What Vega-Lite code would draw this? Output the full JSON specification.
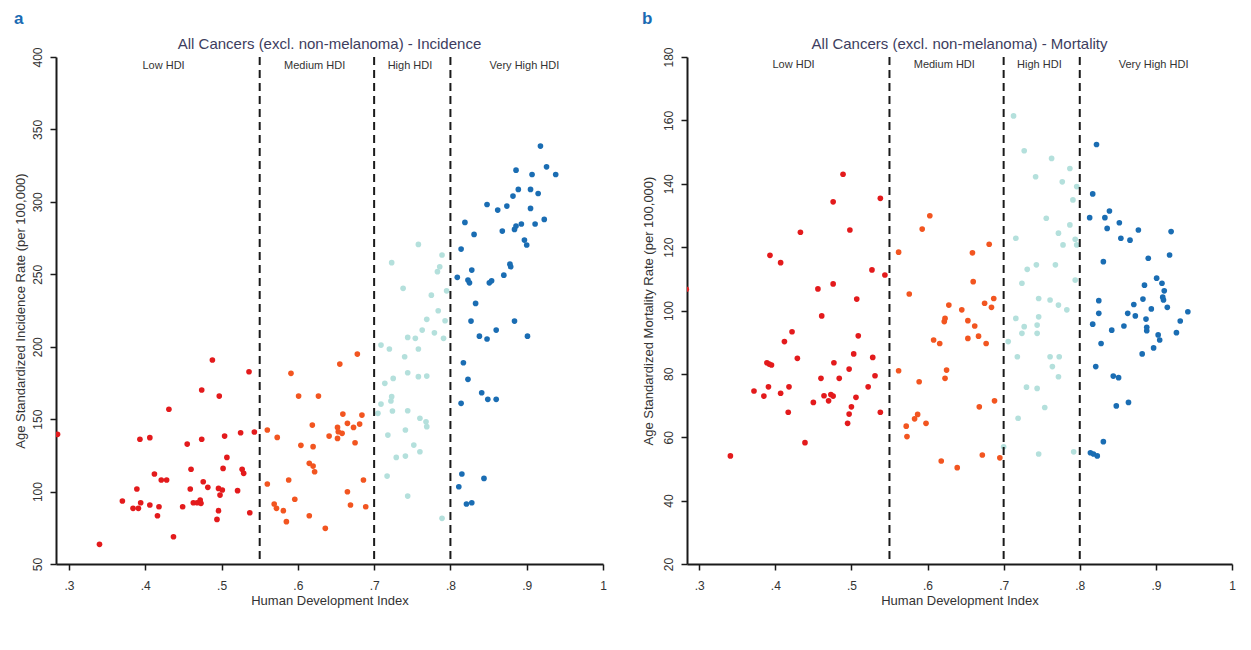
{
  "$schema": "https://vega.github.io/schema/vega-lite/v6.json",
  "background": "white",
  "padding": {"left": 14, "top": 9, "right": 5, "bottom": 5},
  "config": {
    "view": {"stroke": null},
    "font": "Liberation Sans",
    "axis": {"domainColor": "#1a1a1a", "domainWidth": 2, "tickColor": "#1a1a1a", "tickWidth": 1.5, "tickSize": 6, "labelFont": "Liberation Sans", "labelFontSize": 12, "labelColor": "#333333", "titleFont": "Liberation Sans", "titleFontSize": 13, "titleFontWeight": "normal", "titleColor": "#333333", "grid": false, "labelOverlap": false}
  },
  "datasets": {
    "cuts": [{"x": 0.55}, {"x": 0.7}, {"x": 0.8}],
    "labelsA": [{"x": 0.424, "y": 394, "label": "Low HDI"}, {"x": 0.622, "y": 394, "label": "Medium HDI"}, {"x": 0.747, "y": 394, "label": "High HDI"}, {"x": 0.897, "y": 394, "label": "Very High HDI"}],
    "labelsB": [{"x": 0.424, "y": 177.4, "label": "Low HDI"}, {"x": 0.622, "y": 177.4, "label": "Medium HDI"}, {"x": 0.747, "y": 177.4, "label": "High HDI"}, {"x": 0.897, "y": 177.4, "label": "Very High HDI"}],
    "incidence": [
      {"x":0.285,"y":139.5,"g":"Low"},{"x":0.340,"y":63.6,"g":"Low"},{"x":0.370,"y":93.5,"g":"Low"},{"x":0.384,"y":88.4,"g":"Low"},{"x":0.389,"y":101.8,"g":"Low"},{"x":0.391,"y":88.4,"g":"Low"},{"x":0.393,"y":136.1,"g":"Low"},{"x":0.394,"y":92.3,"g":"Low"},{"x":0.406,"y":137.2,"g":"Low"},{"x":0.406,"y":90.7,"g":"Low"},{"x":0.412,"y":112.1,"g":"Low"},{"x":0.416,"y":83.3,"g":"Low"},{"x":0.418,"y":89.5,"g":"Low"},{"x":0.421,"y":108.0,"g":"Low"},{"x":0.428,"y":108.0,"g":"Low"},{"x":0.431,"y":156.8,"g":"Low"},{"x":0.437,"y":68.8,"g":"Low"},{"x":0.449,"y":89.5,"g":"Low"},{"x":0.455,"y":132.8,"g":"Low"},{"x":0.459,"y":101.8,"g":"Low"},{"x":0.460,"y":115.4,"g":"Low"},{"x":0.463,"y":92.3,"g":"Low"},{"x":0.468,"y":92.3,"g":"Low"},{"x":0.472,"y":94.2,"g":"Low"},{"x":0.473,"y":91.9,"g":"Low"},{"x":0.474,"y":170.1,"g":"Low"},{"x":0.474,"y":136.1,"g":"Low"},{"x":0.476,"y":106.8,"g":"Low"},{"x":0.482,"y":102.9,"g":"Low"},{"x":0.488,"y":190.8,"g":"Low"},{"x":0.494,"y":80.8,"g":"Low"},{"x":0.496,"y":86.8,"g":"Low"},{"x":0.496,"y":102.2,"g":"Low"},{"x":0.497,"y":165.9,"g":"Low"},{"x":0.498,"y":97.6,"g":"Low"},{"x":0.501,"y":101.1,"g":"Low"},{"x":0.502,"y":116.0,"g":"Low"},{"x":0.504,"y":138.3,"g":"Low"},{"x":0.507,"y":123.6,"g":"Low"},{"x":0.521,"y":100.6,"g":"Low"},{"x":0.525,"y":140.6,"g":"Low"},{"x":0.527,"y":115.4,"g":"Low"},{"x":0.529,"y":112.6,"g":"Low"},{"x":0.536,"y":182.7,"g":"Low"},{"x":0.537,"y":85.4,"g":"Low"},{"x":0.543,"y":141.1,"g":"Low"},
      {"x":0.560,"y":142.5,"g":"Medium"},{"x":0.560,"y":105.2,"g":"Medium"},{"x":0.569,"y":91.4,"g":"Medium"},{"x":0.572,"y":88.4,"g":"Medium"},{"x":0.573,"y":137.4,"g":"Medium"},{"x":0.581,"y":86.8,"g":"Medium"},{"x":0.585,"y":79.2,"g":"Medium"},{"x":0.588,"y":108.0,"g":"Medium"},{"x":0.591,"y":181.6,"g":"Medium"},{"x":0.596,"y":94.7,"g":"Medium"},{"x":0.601,"y":165.9,"g":"Medium"},{"x":0.604,"y":131.9,"g":"Medium"},{"x":0.615,"y":83.3,"g":"Medium"},{"x":0.615,"y":119.5,"g":"Medium"},{"x":0.620,"y":117.6,"g":"Medium"},{"x":0.622,"y":113.7,"g":"Medium"},{"x":0.619,"y":145.9,"g":"Medium"},{"x":0.620,"y":131.0,"g":"Medium"},{"x":0.627,"y":165.9,"g":"Medium"},{"x":0.636,"y":74.6,"g":"Medium"},{"x":0.641,"y":138.3,"g":"Medium"},{"x":0.652,"y":144.3,"g":"Medium"},{"x":0.653,"y":141.3,"g":"Medium"},{"x":0.652,"y":136.7,"g":"Medium"},{"x":0.655,"y":188.0,"g":"Medium"},{"x":0.658,"y":140.2,"g":"Medium"},{"x":0.659,"y":153.5,"g":"Medium"},{"x":0.665,"y":99.9,"g":"Medium"},{"x":0.665,"y":147.1,"g":"Medium"},{"x":0.669,"y":90.7,"g":"Medium"},{"x":0.673,"y":144.3,"g":"Medium"},{"x":0.675,"y":133.7,"g":"Medium"},{"x":0.678,"y":194.9,"g":"Medium"},{"x":0.681,"y":146.6,"g":"Medium"},{"x":0.684,"y":152.8,"g":"Medium"},{"x":0.686,"y":108.0,"g":"Medium"},{"x":0.689,"y":89.5,"g":"Medium"},
      {"x":0.758,"y":270.6,"g":"High"},{"x":0.723,"y":258.0,"g":"High"},{"x":0.789,"y":263.3,"g":"High"},{"x":0.786,"y":255.2,"g":"High"},{"x":0.783,"y":251.8,"g":"High"},{"x":0.738,"y":240.3,"g":"High"},{"x":0.795,"y":238.6,"g":"High"},{"x":0.775,"y":235.6,"g":"High"},{"x":0.784,"y":224.8,"g":"High"},{"x":0.769,"y":218.9,"g":"High"},{"x":0.793,"y":217.9,"g":"High"},{"x":0.763,"y":211.5,"g":"High"},{"x":0.779,"y":209.6,"g":"High"},{"x":0.744,"y":206.4,"g":"High"},{"x":0.754,"y":205.8,"g":"High"},{"x":0.791,"y":205.8,"g":"High"},{"x":0.709,"y":201.1,"g":"High"},{"x":0.720,"y":198.4,"g":"High"},{"x":0.758,"y":198.4,"g":"High"},{"x":0.740,"y":193.1,"g":"High"},{"x":0.744,"y":182.0,"g":"High"},{"x":0.758,"y":179.3,"g":"High"},{"x":0.769,"y":179.7,"g":"High"},{"x":0.725,"y":178.1,"g":"High"},{"x":0.714,"y":174.7,"g":"High"},{"x":0.723,"y":165.5,"g":"High"},{"x":0.722,"y":162.5,"g":"High"},{"x":0.709,"y":160.4,"g":"High"},{"x":0.724,"y":155.6,"g":"High"},{"x":0.744,"y":155.8,"g":"High"},{"x":0.705,"y":154.0,"g":"High"},{"x":0.760,"y":150.6,"g":"High"},{"x":0.769,"y":144.8,"g":"High"},{"x":0.768,"y":148.2,"g":"High"},{"x":0.718,"y":139.0,"g":"High"},{"x":0.741,"y":142.5,"g":"High"},{"x":0.752,"y":132.1,"g":"High"},{"x":0.760,"y":127.5,"g":"High"},{"x":0.729,"y":123.6,"g":"High"},{"x":0.741,"y":124.5,"g":"High"},{"x":0.717,"y":110.7,"g":"High"},{"x":0.744,"y":96.9,"g":"High"},{"x":0.789,"y":81.5,"g":"High"},
      {"x":0.918,"y":338.5,"g":"Very High"},{"x":0.886,"y":321.9,"g":"Very High"},{"x":0.926,"y":324.2,"g":"Very High"},{"x":0.907,"y":318.9,"g":"Very High"},{"x":0.938,"y":318.9,"g":"Very High"},{"x":0.889,"y":308.6,"g":"Very High"},{"x":0.905,"y":308.6,"g":"Very High"},{"x":0.915,"y":305.8,"g":"Very High"},{"x":0.882,"y":304.0,"g":"Very High"},{"x":0.848,"y":298.2,"g":"Very High"},{"x":0.862,"y":294.3,"g":"Very High"},{"x":0.874,"y":297.1,"g":"Very High"},{"x":0.905,"y":295.5,"g":"Very High"},{"x":0.819,"y":285.8,"g":"Very High"},{"x":0.831,"y":277.5,"g":"Very High"},{"x":0.868,"y":279.8,"g":"Very High"},{"x":0.884,"y":281.0,"g":"Very High"},{"x":0.886,"y":283.3,"g":"Very High"},{"x":0.893,"y":284.7,"g":"Very High"},{"x":0.911,"y":284.7,"g":"Very High"},{"x":0.923,"y":287.9,"g":"Very High"},{"x":0.897,"y":273.6,"g":"Very High"},{"x":0.900,"y":270.2,"g":"Very High"},{"x":0.814,"y":267.4,"g":"Very High"},{"x":0.828,"y":252.9,"g":"Very High"},{"x":0.809,"y":247.9,"g":"Very High"},{"x":0.823,"y":246.0,"g":"Very High"},{"x":0.825,"y":244.1,"g":"Very High"},{"x":0.851,"y":244.1,"g":"Very High"},{"x":0.854,"y":245.5,"g":"Very High"},{"x":0.870,"y":249.4,"g":"Very High"},{"x":0.878,"y":257.0,"g":"Very High"},{"x":0.879,"y":255.2,"g":"Very High"},{"x":0.833,"y":229.9,"g":"Very High"},{"x":0.827,"y":217.7,"g":"Very High"},{"x":0.884,"y":217.7,"g":"Very High"},{"x":0.860,"y":211.5,"g":"Very High"},{"x":0.838,"y":207.3,"g":"Very High"},{"x":0.848,"y":205.3,"g":"Very High"},{"x":0.901,"y":207.3,"g":"Very High"},{"x":0.817,"y":188.9,"g":"Very High"},{"x":0.823,"y":177.5,"g":"Very High"},{"x":0.841,"y":168.2,"g":"Very High"},{"x":0.849,"y":163.7,"g":"Very High"},{"x":0.860,"y":163.7,"g":"Very High"},{"x":0.814,"y":160.9,"g":"Very High"},{"x":0.815,"y":112.1,"g":"Very High"},{"x":0.844,"y":109.1,"g":"Very High"},{"x":0.811,"y":103.3,"g":"Very High"},{"x":0.821,"y":91.4,"g":"Very High"},{"x":0.828,"y":92.3,"g":"Very High"}
    ],
    "mortality": [
      {"x":0.283,"y":106.7,"g":"Low"},{"x":0.393,"y":117.4,"g":"Low"},{"x":0.407,"y":115.1,"g":"Low"},{"x":0.433,"y":124.7,"g":"Low"},{"x":0.456,"y":106.8,"g":"Low"},{"x":0.461,"y":98.3,"g":"Low"},{"x":0.476,"y":108.4,"g":"Low"},{"x":0.476,"y":134.3,"g":"Low"},{"x":0.489,"y":143.0,"g":"Low"},{"x":0.498,"y":125.4,"g":"Low"},{"x":0.507,"y":103.6,"g":"Low"},{"x":0.527,"y":112.8,"g":"Low"},{"x":0.538,"y":135.4,"g":"Low"},{"x":0.544,"y":111.2,"g":"Low"},{"x":0.341,"y":54.1,"g":"Low"},{"x":0.372,"y":74.6,"g":"Low"},{"x":0.385,"y":73.0,"g":"Low"},{"x":0.389,"y":83.5,"g":"Low"},{"x":0.392,"y":83.1,"g":"Low"},{"x":0.395,"y":82.8,"g":"Low"},{"x":0.391,"y":75.9,"g":"Low"},{"x":0.407,"y":73.9,"g":"Low"},{"x":0.412,"y":90.2,"g":"Low"},{"x":0.417,"y":67.9,"g":"Low"},{"x":0.418,"y":75.9,"g":"Low"},{"x":0.422,"y":93.3,"g":"Low"},{"x":0.429,"y":84.9,"g":"Low"},{"x":0.439,"y":58.3,"g":"Low"},{"x":0.450,"y":71.0,"g":"Low"},{"x":0.460,"y":78.6,"g":"Low"},{"x":0.464,"y":73.1,"g":"Low"},{"x":0.470,"y":71.5,"g":"Low"},{"x":0.473,"y":73.5,"g":"Low"},{"x":0.476,"y":73.0,"g":"Low"},{"x":0.477,"y":83.5,"g":"Low"},{"x":0.484,"y":78.6,"g":"Low"},{"x":0.495,"y":64.4,"g":"Low"},{"x":0.497,"y":67.3,"g":"Low"},{"x":0.497,"y":81.5,"g":"Low"},{"x":0.500,"y":69.6,"g":"Low"},{"x":0.503,"y":86.3,"g":"Low"},{"x":0.506,"y":72.6,"g":"Low"},{"x":0.509,"y":92.0,"g":"Low"},{"x":0.522,"y":75.9,"g":"Low"},{"x":0.528,"y":85.2,"g":"Low"},{"x":0.531,"y":79.4,"g":"Low"},{"x":0.538,"y":67.9,"g":"Low"},
      {"x":0.603,"y":129.9,"g":"Medium"},{"x":0.593,"y":125.7,"g":"Medium"},{"x":0.562,"y":118.4,"g":"Medium"},{"x":0.681,"y":120.9,"g":"Medium"},{"x":0.659,"y":118.2,"g":"Medium"},{"x":0.660,"y":109.1,"g":"Medium"},{"x":0.576,"y":105.2,"g":"Medium"},{"x":0.628,"y":101.7,"g":"Medium"},{"x":0.645,"y":100.2,"g":"Medium"},{"x":0.675,"y":102.3,"g":"Medium"},{"x":0.687,"y":103.8,"g":"Medium"},{"x":0.684,"y":101.0,"g":"Medium"},{"x":0.622,"y":96.5,"g":"Medium"},{"x":0.623,"y":97.5,"g":"Medium"},{"x":0.653,"y":96.8,"g":"Medium"},{"x":0.662,"y":95.1,"g":"Medium"},{"x":0.608,"y":90.7,"g":"Medium"},{"x":0.616,"y":89.6,"g":"Medium"},{"x":0.653,"y":91.2,"g":"Medium"},{"x":0.667,"y":91.9,"g":"Medium"},{"x":0.677,"y":89.6,"g":"Medium"},{"x":0.562,"y":81.0,"g":"Medium"},{"x":0.625,"y":81.2,"g":"Medium"},{"x":0.623,"y":78.6,"g":"Medium"},{"x":0.589,"y":77.5,"g":"Medium"},{"x":0.688,"y":71.5,"g":"Medium"},{"x":0.668,"y":69.6,"g":"Medium"},{"x":0.587,"y":67.2,"g":"Medium"},{"x":0.583,"y":65.8,"g":"Medium"},{"x":0.598,"y":64.4,"g":"Medium"},{"x":0.572,"y":63.5,"g":"Medium"},{"x":0.573,"y":60.2,"g":"Medium"},{"x":0.672,"y":54.4,"g":"Medium"},{"x":0.695,"y":53.5,"g":"Medium"},{"x":0.618,"y":52.5,"g":"Medium"},{"x":0.639,"y":50.4,"g":"Medium"},
      {"x":0.713,"y":161.4,"g":"High"},{"x":0.727,"y":150.4,"g":"High"},{"x":0.763,"y":148.0,"g":"High"},{"x":0.787,"y":144.8,"g":"High"},{"x":0.742,"y":142.2,"g":"High"},{"x":0.777,"y":140.6,"g":"High"},{"x":0.796,"y":139.1,"g":"High"},{"x":0.791,"y":134.9,"g":"High"},{"x":0.756,"y":129.1,"g":"High"},{"x":0.787,"y":127.0,"g":"High"},{"x":0.716,"y":122.8,"g":"High"},{"x":0.772,"y":124.4,"g":"High"},{"x":0.778,"y":120.7,"g":"High"},{"x":0.794,"y":122.5,"g":"High"},{"x":0.796,"y":120.7,"g":"High"},{"x":0.731,"y":113.0,"g":"High"},{"x":0.743,"y":114.4,"g":"High"},{"x":0.768,"y":114.4,"g":"High"},{"x":0.724,"y":108.6,"g":"High"},{"x":0.794,"y":109.6,"g":"High"},{"x":0.746,"y":103.8,"g":"High"},{"x":0.761,"y":103.3,"g":"High"},{"x":0.772,"y":101.7,"g":"High"},{"x":0.783,"y":100.2,"g":"High"},{"x":0.716,"y":97.5,"g":"High"},{"x":0.746,"y":98.0,"g":"High"},{"x":0.727,"y":94.9,"g":"High"},{"x":0.724,"y":92.8,"g":"High"},{"x":0.744,"y":95.4,"g":"High"},{"x":0.744,"y":92.8,"g":"High"},{"x":0.706,"y":90.2,"g":"High"},{"x":0.718,"y":85.4,"g":"High"},{"x":0.761,"y":85.4,"g":"High"},{"x":0.773,"y":85.4,"g":"High"},{"x":0.764,"y":82.3,"g":"High"},{"x":0.772,"y":79.1,"g":"High"},{"x":0.730,"y":75.8,"g":"High"},{"x":0.744,"y":75.4,"g":"High"},{"x":0.754,"y":69.4,"g":"High"},{"x":0.719,"y":66.0,"g":"High"},{"x":0.746,"y":54.7,"g":"High"},{"x":0.792,"y":55.4,"g":"High"},{"x":0.700,"y":57.0,"g":"High"},
      {"x":0.822,"y":152.4,"g":"Very High"},{"x":0.817,"y":136.8,"g":"Very High"},{"x":0.839,"y":131.4,"g":"Very High"},{"x":0.813,"y":129.3,"g":"Very High"},{"x":0.833,"y":129.3,"g":"Very High"},{"x":0.852,"y":127.7,"g":"Very High"},{"x":0.836,"y":125.9,"g":"Very High"},{"x":0.877,"y":125.4,"g":"Very High"},{"x":0.920,"y":124.9,"g":"Very High"},{"x":0.854,"y":122.8,"g":"Very High"},{"x":0.866,"y":122.2,"g":"Very High"},{"x":0.918,"y":117.5,"g":"Very High"},{"x":0.890,"y":116.5,"g":"Very High"},{"x":0.831,"y":115.4,"g":"Very High"},{"x":0.901,"y":110.2,"g":"Very High"},{"x":0.885,"y":108.0,"g":"Very High"},{"x":0.908,"y":108.6,"g":"Very High"},{"x":0.911,"y":106.2,"g":"Very High"},{"x":0.909,"y":104.2,"g":"Very High"},{"x":0.910,"y":103.3,"g":"Very High"},{"x":0.883,"y":103.6,"g":"Very High"},{"x":0.825,"y":103.1,"g":"Very High"},{"x":0.871,"y":101.9,"g":"Very High"},{"x":0.894,"y":100.5,"g":"Very High"},{"x":0.915,"y":101.0,"g":"Very High"},{"x":0.942,"y":99.6,"g":"Very High"},{"x":0.825,"y":99.1,"g":"Very High"},{"x":0.863,"y":99.1,"g":"Very High"},{"x":0.873,"y":98.3,"g":"Very High"},{"x":0.887,"y":97.3,"g":"Very High"},{"x":0.932,"y":96.7,"g":"Very High"},{"x":0.817,"y":95.7,"g":"Very High"},{"x":0.858,"y":95.1,"g":"Very High"},{"x":0.888,"y":94.7,"g":"Very High"},{"x":0.888,"y":93.6,"g":"Very High"},{"x":0.842,"y":93.8,"g":"Very High"},{"x":0.927,"y":93.0,"g":"Very High"},{"x":0.903,"y":92.3,"g":"Very High"},{"x":0.905,"y":90.7,"g":"Very High"},{"x":0.828,"y":89.6,"g":"Very High"},{"x":0.897,"y":88.2,"g":"Very High"},{"x":0.882,"y":86.3,"g":"Very High"},{"x":0.821,"y":82.3,"g":"Very High"},{"x":0.844,"y":79.3,"g":"Very High"},{"x":0.851,"y":78.8,"g":"Very High"},{"x":0.848,"y":69.9,"g":"Very High"},{"x":0.864,"y":71.0,"g":"Very High"},{"x":0.831,"y":58.6,"g":"Very High"},{"x":0.814,"y":55.1,"g":"Very High"},{"x":0.818,"y":54.7,"g":"Very High"},{"x":0.823,"y":54.1,"g":"Very High"}
    ]
  },
  "spacing": 35,
  "hconcat": [
    {
      "title": {"text": "a", "anchor": "start", "fontSize": 17, "fontWeight": "bold", "color": "#1a6bb3", "offset": 9},
      "hconcat": [
        {
          "width": 547,
          "height": 507,
          "title": {"text": "All Cancers (excl. non-melanoma) - Incidence", "fontSize": 15, "fontWeight": "normal", "color": "#3d3d5e", "offset": -5},
          "layer": [
            {
              "data": {"name": "incidence"},
              "mark": {"type": "point", "filled": true, "size": 32, "opacity": 1, "clip": true},
              "encoding": {
                "x": {"field": "x", "type": "quantitative", "scale": {"domain": [0.283, 1], "nice": false, "zero": false},
                  "axis": {"values": [0.3, 0.4, 0.5, 0.6, 0.7, 0.8, 0.9, 1], "labelExpr": "datum.value >= 1 ? '1' : replace(format(datum.value, '.1f'), '0.', '.')", "labelPadding": 10, "labelFlush": false, "title": "Human Development Index", "titlePadding": 3}},
                "y": {"field": "y", "type": "quantitative", "scale": {"domain": [50, 400], "nice": false, "zero": false},
                  "axis": {"values": [50, 100, 150, 200, 250, 300, 350, 400], "labelAngle": -90, "labelAlign": "center", "labelBaseline": "bottom", "labelPadding": 6, "title": "Age Standardized Incidence Rate (per 100,000)", "titlePadding": 4}},
                "color": {"field": "g", "type": "nominal", "scale": {"domain": ["Low", "Medium", "High", "Very High"], "range": ["#e31a1c", "#f25520", "#b4e0dc", "#1a6db3"]}, "legend": null}
              }
            },
            {
              "data": {"name": "cuts"},
              "mark": {"type": "rule", "strokeDash": [8, 5], "strokeWidth": 2, "color": "#1a1a1a"},
              "encoding": {"x": {"field": "x", "type": "quantitative"}}
            },
            {
              "data": {"name": "labelsA"},
              "mark": {"type": "text", "fontSize": 11, "color": "#333333"},
              "encoding": {"x": {"field": "x", "type": "quantitative"}, "y": {"field": "y", "type": "quantitative"}, "text": {"field": "label"}}
            }
          ]
        }
      ]
    },
    {
      "title": {"text": "b", "anchor": "start", "fontSize": 17, "fontWeight": "bold", "color": "#1a6bb3", "offset": 9},
      "hconcat": [
        {
          "width": 545,
          "height": 507,
          "title": {"text": "All Cancers (excl. non-melanoma) - Mortality", "fontSize": 15, "fontWeight": "normal", "color": "#3d3d5e", "offset": -5},
          "layer": [
            {
              "data": {"name": "mortality"},
              "mark": {"type": "point", "filled": true, "size": 32, "opacity": 1, "clip": true},
              "encoding": {
                "x": {"field": "x", "type": "quantitative", "scale": {"domain": [0.284, 1], "nice": false, "zero": false},
                  "axis": {"values": [0.3, 0.4, 0.5, 0.6, 0.7, 0.8, 0.9, 1], "labelExpr": "datum.value >= 1 ? '1' : replace(format(datum.value, '.1f'), '0.', '.')", "labelPadding": 10, "labelFlush": false, "title": "Human Development Index", "titlePadding": 3}},
                "y": {"field": "y", "type": "quantitative", "scale": {"domain": [20, 180], "nice": false, "zero": false},
                  "axis": {"values": [20, 40, 60, 80, 100, 120, 140, 160, 180], "labelAngle": -90, "labelAlign": "center", "labelBaseline": "bottom", "labelPadding": 6, "title": "Age Standardized Mortality Rate (per 100,000)", "titlePadding": 7}},
                "color": {"field": "g", "type": "nominal", "scale": {"domain": ["Low", "Medium", "High", "Very High"], "range": ["#e31a1c", "#f25520", "#b4e0dc", "#1a6db3"]}, "legend": null}
              }
            },
            {
              "data": {"name": "cuts"},
              "mark": {"type": "rule", "strokeDash": [8, 5], "strokeWidth": 2, "color": "#1a1a1a"},
              "encoding": {"x": {"field": "x", "type": "quantitative"}}
            },
            {
              "data": {"name": "labelsB"},
              "mark": {"type": "text", "fontSize": 11, "color": "#333333"},
              "encoding": {"x": {"field": "x", "type": "quantitative"}, "y": {"field": "y", "type": "quantitative"}, "text": {"field": "label"}}
            }
          ]
        }
      ]
    }
  ]
}
